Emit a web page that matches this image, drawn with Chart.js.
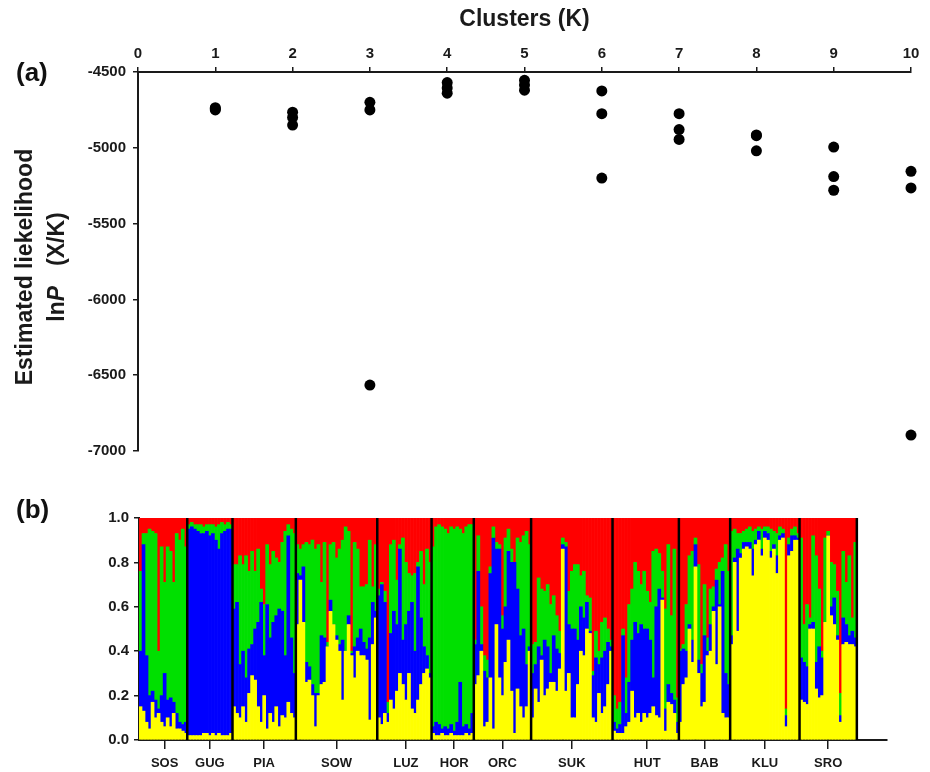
<!DOCTYPE html>
<html>
<head>
<meta charset="utf-8">
<script src="https://cdn.jsdelivr.net/npm/chart.js@4.4.1/dist/chart.umd.min.js"></script>
<style>
    html, body { margin: 0; padding: 0; background: #fff; }
    #wrap { position: relative; width: 930px; height: 772px; overflow: hidden;
        font-family: "Liberation Sans", Arial, sans-serif; color: #111; }
    #topBox { position: absolute; left: 0; top: 0; width: 930px; height: 470px; }
    #botBox { position: absolute; left: 0; top: 470px; width: 930px; height: 302px; }
    .panel { position: absolute; left: 16px; font-weight: bold; font-size: 26px; line-height: 30px; }
    #yTitle { position: absolute; left: -110px; top: 235px; width: 300px; height: 64px;
        line-height: 32px; font-size: 23px; font-weight: bold; text-align: center;
        transform: rotate(-90deg); white-space: nowrap; color: #1a1a1a; }
</style>
</head>
<body>
<div id="wrap">
    <div id="topBox"><canvas id="likeChart"></canvas></div>
    <div id="botBox"><canvas id="structChart"></canvas></div>
    <div class="panel" style="top:57px">(a)</div>
    <div class="panel" style="top:494px">(b)</div>
    <div id="yTitle">Estimated liekelihood<br>ln<i>P</i><span style="margin-left:20px">(X/K)</span></div>
</div>
<script>
// (a) log likelihood of each STRUCTURE run
const runK = [1, 1, 1, 2, 2, 2, 3, 3, 3, 4, 4, 4, 5, 5, 5, 6, 6, 6, 7, 7, 7, 8, 8, 8, 9, 9, 9, 10, 10, 10]
const runLnP = [
    -4735, -4742, -4750, -4765, -4800, -4850, -4700, -4750, -6565,
    -4570, -4605, -4640, -4555, -4585, -4620, -4625, -4775, -5200,
    -4775, -4880, -4945, -4915, -4920, -5020, -4995, -5190, -5280,
    -5155, -5265, -6895,
]

// (b) populations and individual membership (cumulative tops: yellow, blue, green; red fills to 1)
const popNames = ["SOS", "GUG", "PIA", "SOW", "LUZ", "HOR", "ORC", "SUK", "HUT", "BAB", "KLU", "SRO"]
const popSizes = [16, 15, 21, 27, 18, 14, 19, 27, 22, 17, 23, 19]

const yellowTop = [
    // SOS
    .15, .13, .08, .05, .17, .10, .12, .08, .06, .10, .06, .12, .05, .05, .04, .03,
    // GUG
    .02, .02, .02, .02, .02, .03, .03, .02, .03, .02, .03, .02, .02, .02, .03,
    // PIA
    .15, .12, .10, .15, .08, .21, .29, .27, .15, .08, .20, .05, .12, .08, .15, .06, .11, .10, .17, .12, .10,
    // SOW
    .52, .72, .53, .26, .27, .20, .06, .20, .25, .26, .42, .58, .52, .45, .40, .18, .40, .52, .38, .28, .40, .38, .38, .36, .09, .43, .55,
    // LUZ
    .10, .07, .12, .08, .18, .14, .22, .30, .25, .18, .30, .14, .12, .18, .25, .30, .32, .28,
    // HOR
    .03, .02, .02, .03, .02, .02, .03, .02, .02, .02, .02, .03, .02, .03,
    // ORC
    .25, .29, .40, .06, .08, .28, .05, .52, .28, .20, .35, .45, .22, .03, .23, .15, .10, .15, .40,
    // SUK
    .10, .23, .17, .36, .20, .23, .26, .26, .22, .32, .86, .22, .30, .10, .10, .25, .40, .38, .50, .48, .10, .08, .21, .12, .15, .25, .40,
    // HUT
    .04, .03, .03, .03, .06, .08, .22, .10, .12, .08, .12, .10, .12, .15, .11, .10, .63, .04, .17, .16, .12, .03,
    // BAB
    .08, .25, .28, .50, .35, .78, .30, .15, .17, .38, .40, .58, .34, .60, .12, .10, .10,
    // KLU
    .43, .80, .49, .82, .86, .87, .86, .74, .88, .90, .83, .91, .90, .82, .86, .75, .90, .91, .06, .83, .85, .90, .90,
    // SRO
    .18, .17, .16, .50, .50, .23, .19, .20, .53, .92, .56, .52, .45, .08, .43, .44, .43, .43, .42,
]
const blueTop = [
    // SOS
    .40, .88, .38, .20, .22, .18, .14, .20, .30, .18, .19, .17, .12, .08, .07, .08,
    // GUG
    .95, .96, .95, .94, .93, .93, .94, .92, .93, .90, .86, .93, .94, .95, .95,
    // PIA
    .59, .62, .34, .40, .28, .41, .43, .50, .53, .62, .38, .61, .46, .53, .56, .59, .58, .38, .92, .46, .30,
    // SOW
    .75, .74, .78, .35, .33, .25, .21, .21, .47, .46, .42, .63, .52, .47, .43, .45, .40, .56, .39, .42, .46, .50, .44, .41, .46, .62, .58,
    // LUZ
    .65, .70, .62, .12, .48, .58, .52, .86, .45, .52, .58, .62, .40, .78, .55, .42, .38, .30,
    // HOR
    .06, .08, .07, .05, .06, .05, .07, .04, .08, .26, .06, .07, .05, .12,
    // ORC
    .43, .76, .43, .31, .28, .75, .91, .86, .86, .50, .60, .85, .80, .80, .68, .47, .50, .34, .42,
    // SUK
    .30, .34, .42, .38, .45, .42, .30, .47, .41, .39, .88, .87, .52, .50, .50, .45, .60, .55, .62, .49, .29, .37, .34, .37, .40, .44, .42,
    // HUT
    .08, .05, .07, .47, .12, .26, .45, .53, .48, .52, .50, .50, .45, .28, .60, .68, .64, .14, .25, .21, .18, .08,
    // BAB
    .40, .41, .40, .52, .45, .88, .36, .30, .47, .40, .52, .60, .72, .61, .76, .30, .25,
    // KLU
    .47, .82, .86, .84, .89, .89, .89, .86, .90, .94, .86, .94, .93, .85, .88, .83, .92, .93, .11, .88, .92, .92, .91,
    // SRO
    .37, .35, .33, .52, .53, .35, .42, .37, .53, .92, .60, .64, .47, .11, .55, .52, .47, .49, .46,
]
const greenTop = [
    // SOS
    .76, .93, .93, .95, .94, .93, .40, .87, .71, .87, .85, .71, .93, .90, .95, .87,
    // GUG
    .97, .98, .97, .97, .97, .96, .97, .97, .97, .96, .97, .98, .97, .98, .97,
    // PIA
    .79, .79, .83, .79, .83, .76, .85, .76, .86, .68, .61, .88, .79, .85, .82, .80, .89, .94, .97, .95, .93,
    // SOW
    .88, .86, .88, .89, .88, .90, .86, .88, .71, .89, .44, .88, .89, .82, .86, .90, .96, .94, .40, .89, .86, .69, .69, .70, .90, .69, .88,
    // LUZ
    .68, .71, .67, .17, .88, .90, .72, .88, .91, .80, .75, .74, .75, .80, .85, .70, .86, .80,
    // HOR
    .87, .96, .97, .96, .95, .93, .96, .95, .96, .95, .93, .96, .97, .97,
    // ORC
    .45, .92, .60, .38, .36, .78, .96, .89, .88, .56, .91, .95, .86, .80, .91, .89, .92, .94, .88,
    // SUK
    .43, .44, .73, .68, .67, .70, .61, .65, .56, .49, .91, .89, .67, .76, .79, .79, .74, .76, .65, .64, .31, .49, .40, .53, .55, .50, .45,
    // HUT
    .20, .14, .17, .50, .28, .61, .68, .80, .76, .70, .76, .67, .62, .85, .86, .84, .76, .59, .88, .56, .86, .19,
    // BAB
    .41, .43, .61, .83, .85, .91, .79, .34, .70, .46, .68, .69, .77, .80, .82, .88, .76,
    // KLU
    .94, .95, .93, .93, .94, .95, .96, .94, .95, .96, .95, .96, .96, .95, .94, .93, .96, .95, .14, .91, .95, .96, .93,
    // SRO
    .91, .52, .61, .55, .92, .83, .68, .40, .91, .94, .80, .79, .67, .21, .85, .71, .83, .55, .89,
]

const axisPad = 10 // empty slots so the x axis runs on past the last population

// === (a) likelihood scatter ===
const inkColor = "#1a1a1a"
const tickFont = { family: "Liberation Sans", size: 15, weight: "bold" }

new Chart(document.getElementById("likeChart"), {
    type: "scatter",
    data: {
        datasets: [
            {
                data: runK.map((k, i) => ({ x: k, y: runLnP[i] })),
                backgroundColor: "#000",
                borderWidth: 0,
                pointRadius: 5.5,
                pointHoverRadius: 5.5,
                clip: false,
            },
        ],
    },
    options: {
        responsive: true,
        maintainAspectRatio: false,
        animation: false,
        layout: { padding: { left: 0, top: 0, right: 19, bottom: 19 } },
        plugins: { legend: { display: false }, tooltip: { enabled: false } },
        scales: {
            x: {
                type: "linear",
                position: "top",
                min: 0,
                max: 10,
                afterFit: (s) => { s.height = 72 },
                ticks: { stepSize: 1, color: inkColor, font: tickFont, padding: 4, maxRotation: 0 },
                grid: { drawOnChartArea: false, tickLength: 5, color: inkColor, lineWidth: 1.5 },
                border: { color: inkColor, width: 2 },
                title: {
                    display: true,
                    text: "Clusters (K)",
                    color: inkColor,
                    font: { family: "Liberation Sans", size: 23, weight: "bold" },
                    padding: { top: 6, bottom: 0 },
                },
            },
            y: {
                min: -7000,
                max: -4500,
                afterFit: (s) => { s.width = 138 },
                ticks: { stepSize: 500, color: inkColor, font: tickFont, padding: 7, callback: (v) => String(v) },
                grid: { drawOnChartArea: false, tickLength: 5, color: inkColor, lineWidth: 1.5 },
                border: { color: inkColor, width: 2 },
            },
        },
    },
})

// === (b) STRUCTURE membership bars ===
const indivLabels = []
popSizes.forEach((n, p) => {
    for (let j = 0; j < n; j++) indivLabels.push(j === Math.floor(n / 2) ? popNames[p] : "")
})
for (let j = 0; j < axisPad; j++) indivLabels.push("")

const clusterColors = { yellow: "#ffff00", blue: "#0000ff", green: "#00e000", red: "#ff0000" }

function barSet(color, data) {
    return {
        data: data,
        backgroundColor: color,
        borderWidth: 0,
        barPercentage: 1,
        categoryPercentage: 1,
        grouped: false,
    }
}

// black lines closing each population block
const popSeparators = {
    id: "popSeparators",
    afterDatasetsDraw(chart) {
        const { ctx, chartArea, scales } = chart
        const x = scales.x
        const half = (x.getPixelForValue(1) - x.getPixelForValue(0)) / 2
        ctx.save()
        ctx.strokeStyle = "#000"
        ctx.lineWidth = 2.5
        let idx = 0
        popSizes.forEach((n) => {
            idx += n
            const px = x.getPixelForValue(idx - 1) + half
            ctx.beginPath()
            ctx.moveTo(px, chartArea.top)
            ctx.lineTo(px, chartArea.bottom)
            ctx.stroke()
        })
        ctx.restore()
    },
}

new Chart(document.getElementById("structChart"), {
    type: "bar",
    data: {
        labels: indivLabels,
        datasets: [
            barSet(clusterColors.yellow, yellowTop.map((v) => [0, v])),
            barSet(clusterColors.blue, blueTop.map((v, i) => [yellowTop[i], v])),
            barSet(clusterColors.green, greenTop.map((v, i) => [blueTop[i], v])),
            barSet(clusterColors.red, greenTop.map((v) => [v, 1])),
        ],
    },
    options: {
        responsive: true,
        maintainAspectRatio: false,
        animation: false,
        layout: { padding: { left: 0, top: 48, right: 43, bottom: 0 } },
        plugins: { legend: { display: false }, tooltip: { enabled: false } },
        scales: {
            x: {
                afterFit: (s) => { s.height = 32 },
                ticks: {
                    autoSkip: false,
                    maxRotation: 0,
                    minRotation: 0,
                    color: inkColor,
                    font: { family: "Liberation Sans", size: 13, weight: "bold" },
                    padding: 7,
                },
                grid: {
                    offset: false,
                    drawOnChartArea: false,
                    tickLength: 9,
                    lineWidth: 1.5,
                    color: (c) => (indivLabels[c.index] ? inkColor : "rgba(0,0,0,0)"),
                },
                border: { color: inkColor, width: 2 },
            },
            y: {
                min: 0,
                max: 1,
                afterFit: (s) => { s.width = 139 },
                ticks: {
                    stepSize: 0.2,
                    color: inkColor,
                    font: tickFont,
                    padding: 5,
                    callback: (v) => v.toFixed(1),
                },
                grid: { drawOnChartArea: false, tickLength: 5, color: inkColor, lineWidth: 1.5 },
                border: { color: inkColor, width: 2 },
            },
        },
    },
    plugins: [popSeparators],
})
</script>
</body>
</html>
